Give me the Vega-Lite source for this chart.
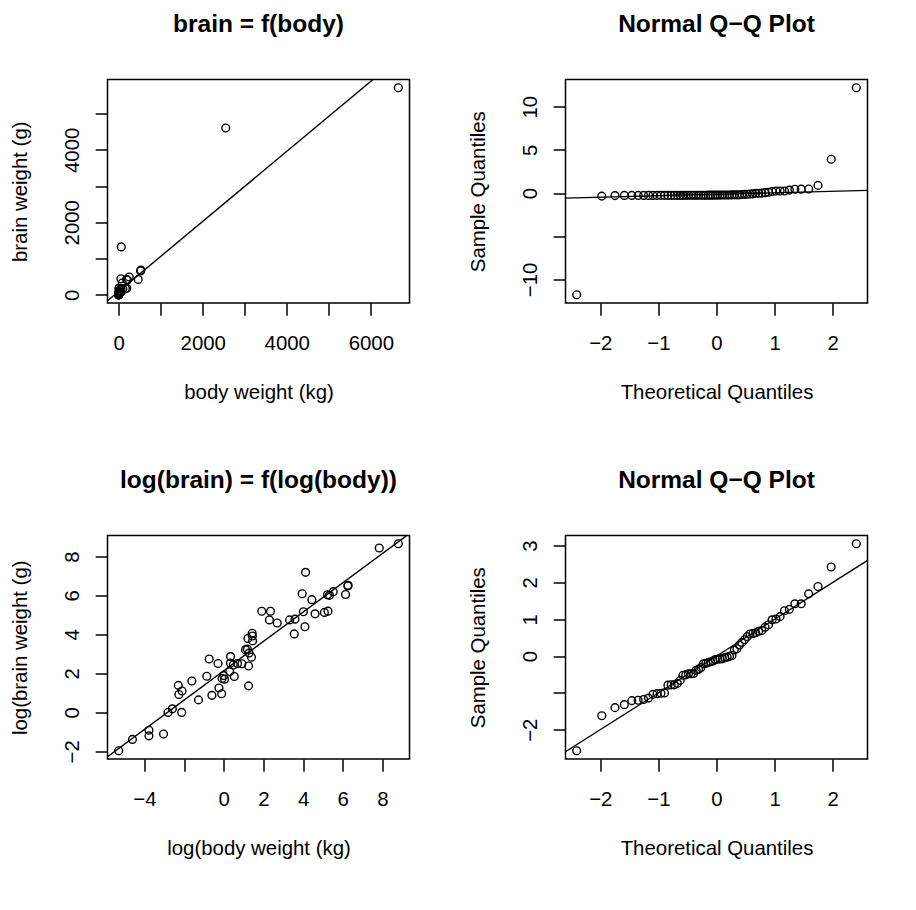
{
  "$schema": "https://vega.github.io/schema/vega-lite/v6.json",
  "padding": {"left": 9.5, "top": 10.5, "right": 0, "bottom": 0},
  "background": "white",
  "config": {
    "font": "Liberation Sans",
    "view": {"stroke": "black", "strokeWidth": 1.5},
    "axis": {
      "grid": false, "domain": false, "ticks": true, "tickColor": "black", "tickWidth": 1.5, "tickSize": 12.3,
      "labelFont": "Liberation Sans", "labelFontSize": 20.4, "labelColor": "black", "labelFlush": false, "labelOverlap": false,
      "titleFont": "Liberation Sans", "titleFontSize": 20.4, "titleFontWeight": "normal", "titleColor": "black"
    },
    "axisX": {"labelBaseline": "alphabetic", "labelPadding": 33.9, "titleBaseline": "alphabetic", "titleY": 95.3},
    "axisY": {"labelAngle": -90, "labelAlign": "center", "labelBaseline": "alphabetic", "labelPadding": 16.3, "titleX": -81, "titleBaseline": "alphabetic"},
    "title": {"font": "Liberation Sans", "fontSize": 24.5, "fontWeight": "bold", "anchor": "middle", "frame": "group", "baseline": "alphabetic", "offset": 42.4, "color": "black"}
  },
  "datasets": {
    "mammals": [
      {"body":3.385,"brain":44.5,"lbody":1.2194,"lbrain":3.7955},
      {"body":0.48,"brain":15.5,"lbody":-0.734,"lbrain":2.7408},
      {"body":1.35,"brain":8.1,"lbody":0.3001,"lbrain":2.0919},
      {"body":465,"brain":423,"lbody":6.142,"lbrain":6.0474},
      {"body":36.33,"brain":119.5,"lbody":3.5927,"lbrain":4.7833},
      {"body":27.66,"brain":115,"lbody":3.32,"lbrain":4.7449},
      {"body":14.83,"brain":98.2,"lbody":2.6967,"lbrain":4.587},
      {"body":1.04,"brain":5.5,"lbody":0.0392,"lbrain":1.7047},
      {"body":4.19,"brain":58,"lbody":1.4327,"lbrain":4.0604},
      {"body":0.425,"brain":6.4,"lbody":-0.8557,"lbrain":1.8563},
      {"body":0.101,"brain":4,"lbody":-2.2926,"lbrain":1.3863},
      {"body":0.92,"brain":5.7,"lbody":-0.0834,"lbrain":1.7405},
      {"body":1,"brain":6.6,"lbody":0,"lbrain":1.8871},
      {"body":0.005,"brain":0.14,"lbody":-5.2983,"lbrain":-1.9661},
      {"body":0.06,"brain":1,"lbody":-2.8134,"lbrain":0},
      {"body":3.5,"brain":10.8,"lbody":1.2528,"lbrain":2.3795},
      {"body":2,"brain":12.3,"lbody":0.6931,"lbrain":2.5096},
      {"body":1.7,"brain":6.3,"lbody":0.5306,"lbrain":1.8406},
      {"body":2547,"brain":4603,"lbody":7.8427,"lbrain":8.4344},
      {"body":0.023,"brain":0.3,"lbody":-3.7723,"lbrain":-1.204},
      {"body":187.1,"brain":419,"lbody":5.2317,"lbrain":6.0379},
      {"body":521,"brain":655,"lbody":6.2558,"lbrain":6.4846},
      {"body":0.785,"brain":3.5,"lbody":-0.2421,"lbrain":1.2528},
      {"body":10,"brain":115,"lbody":2.3026,"lbrain":4.7449},
      {"body":3.3,"brain":25.6,"lbody":1.1939,"lbrain":3.2426},
      {"body":0.2,"brain":5,"lbody":-1.6094,"lbrain":1.6094},
      {"body":1.41,"brain":17.5,"lbody":0.3436,"lbrain":2.8622},
      {"body":529,"brain":680,"lbody":6.271,"lbrain":6.5221},
      {"body":207,"brain":406,"lbody":5.3327,"lbrain":6.0064},
      {"body":85,"brain":325,"lbody":4.4427,"lbrain":5.7838},
      {"body":0.75,"brain":12.3,"lbody":-0.2877,"lbrain":2.5096},
      {"body":62,"brain":1320,"lbody":4.1271,"lbrain":7.1854},
      {"body":6654,"brain":5712,"lbody":8.803,"lbrain":8.6503},
      {"body":3.5,"brain":3.9,"lbody":1.2528,"lbrain":1.361},
      {"body":6.8,"brain":179,"lbody":1.9169,"lbrain":5.1874},
      {"body":35,"brain":56,"lbody":3.5553,"lbrain":4.0254},
      {"body":4.05,"brain":17,"lbody":1.3987,"lbrain":2.8332},
      {"body":0.12,"brain":1,"lbody":-2.1203,"lbrain":0},
      {"body":0.023,"brain":0.4,"lbody":-3.7723,"lbrain":-0.9163},
      {"body":0.01,"brain":0.25,"lbody":-4.6052,"lbrain":-1.3863},
      {"body":1.4,"brain":12.5,"lbody":0.3365,"lbrain":2.5257},
      {"body":250,"brain":490,"lbody":5.5215,"lbrain":6.1944},
      {"body":2.5,"brain":12.1,"lbody":0.9163,"lbrain":2.4932},
      {"body":55.5,"brain":175,"lbody":4.0164,"lbrain":5.1648},
      {"body":100,"brain":157,"lbody":4.6052,"lbrain":5.0562},
      {"body":52.16,"brain":440,"lbody":3.9543,"lbrain":6.0868},
      {"body":10.55,"brain":179.5,"lbody":2.3561,"lbrain":5.1902},
      {"body":0.55,"brain":2.4,"lbody":-0.5978,"lbrain":0.8755},
      {"body":60,"brain":81,"lbody":4.0943,"lbrain":4.3944},
      {"body":3.6,"brain":21,"lbody":1.2809,"lbrain":3.0445},
      {"body":4.288,"brain":39.2,"lbody":1.4558,"lbrain":3.6687},
      {"body":0.28,"brain":1.9,"lbody":-1.273,"lbrain":0.6419},
      {"body":0.075,"brain":1.2,"lbody":-2.5903,"lbrain":0.1823},
      {"body":0.122,"brain":3,"lbody":-2.1037,"lbrain":1.0986},
      {"body":0.048,"brain":0.33,"lbody":-3.0366,"lbrain":-1.1087},
      {"body":192,"brain":180,"lbody":5.2575,"lbrain":5.193},
      {"body":3,"brain":25,"lbody":1.0986,"lbrain":3.2189},
      {"body":160,"brain":169,"lbody":5.0752,"lbrain":5.1299},
      {"body":0.9,"brain":2.6,"lbody":-0.1054,"lbrain":0.9555},
      {"body":1.62,"brain":11.4,"lbody":0.4824,"lbrain":2.4336},
      {"body":0.104,"brain":2.5,"lbody":-2.2634,"lbrain":0.9163},
      {"body":4.235,"brain":50.4,"lbody":1.4434,"lbrain":3.92}
    ],
    "fit1": [{"body":-300,"brain":-199},{"body":7000,"brain":6856.5}],
    "fit3": [{"lbody":-7,"lbrain":-3.1271},{"lbody":10,"lbrain":9.6518}],
    "qq1": [
      {"theo":-2.406,"sample":-11.78},{"theo":-1.974,"sample":-0.354},{"theo":-1.747,"sample":-0.289},{"theo":-1.586,"sample":-0.272},
      {"theo":-1.457,"sample":-0.271},{"theo":-1.349,"sample":-0.271},{"theo":-1.254,"sample":-0.271},{"theo":-1.17,"sample":-0.271},
      {"theo":-1.094,"sample":-0.27},{"theo":-1.023,"sample":-0.269},{"theo":-0.957,"sample":-0.269},{"theo":-0.895,"sample":-0.269},
      {"theo":-0.836,"sample":-0.267},{"theo":-0.78,"sample":-0.267},{"theo":-0.726,"sample":-0.266},{"theo":-0.674,"sample":-0.265},
      {"theo":-0.624,"sample":-0.264},{"theo":-0.576,"sample":-0.263},{"theo":-0.529,"sample":-0.26},{"theo":-0.483,"sample":-0.258},
      {"theo":-0.438,"sample":-0.258},{"theo":-0.394,"sample":-0.258},{"theo":-0.351,"sample":-0.258},{"theo":-0.308,"sample":-0.255},
      {"theo":-0.266,"sample":-0.254},{"theo":-0.224,"sample":-0.252},{"theo":-0.183,"sample":-0.25},{"theo":-0.142,"sample":-0.243},
      {"theo":-0.101,"sample":-0.243},{"theo":-0.061,"sample":-0.241},{"theo":-0.02,"sample":-0.239},{"theo":0.02,"sample":-0.237},
      {"theo":0.061,"sample":-0.233},{"theo":0.101,"sample":-0.229},{"theo":0.142,"sample":-0.227},{"theo":0.183,"sample":-0.224},
      {"theo":0.224,"sample":-0.22},{"theo":0.266,"sample":-0.206},{"theo":0.308,"sample":-0.206},{"theo":0.351,"sample":-0.205},
      {"theo":0.394,"sample":-0.203},{"theo":0.438,"sample":-0.167},{"theo":0.483,"sample":-0.149},{"theo":0.529,"sample":-0.134},
      {"theo":0.576,"sample":-0.111},{"theo":0.624,"sample":-0.092},{"theo":0.674,"sample":-0.021},{"theo":0.726,"sample":-0.02},
      {"theo":0.78,"sample":-0.008},{"theo":0.836,"sample":0.043},{"theo":0.895,"sample":0.091},{"theo":0.957,"sample":0.182},
      {"theo":1.023,"sample":0.234},{"theo":1.094,"sample":0.234},{"theo":1.17,"sample":0.243},{"theo":1.254,"sample":0.344},
      {"theo":1.349,"sample":0.44},{"theo":1.457,"sample":0.454},{"theo":1.586,"sample":0.47},{"theo":1.747,"sample":0.89},
      {"theo":1.974,"sample":3.92},{"theo":2.406,"sample":12.2}
    ],
    "fit2": [{"theo":-3,"sample":-0.659},{"theo":3,"sample":0.379}],
    "qq2": [
      {"theo":-2.406,"sample":-2.57},{"theo":-1.974,"sample":-1.62},{"theo":-1.747,"sample":-1.4},{"theo":-1.586,"sample":-1.32},
      {"theo":-1.457,"sample":-1.21},{"theo":-1.349,"sample":-1.2},{"theo":-1.254,"sample":-1.18},{"theo":-1.17,"sample":-1.14},
      {"theo":-1.094,"sample":-1.04},{"theo":-1.023,"sample":-1.02},{"theo":-0.957,"sample":-1.01},{"theo":-0.895,"sample":-1.0},
      {"theo":-0.836,"sample":-0.79},{"theo":-0.78,"sample":-0.78},{"theo":-0.726,"sample":-0.78},{"theo":-0.674,"sample":-0.74},
      {"theo":-0.624,"sample":-0.66},{"theo":-0.576,"sample":-0.52},{"theo":-0.529,"sample":-0.51},{"theo":-0.483,"sample":-0.48},
      {"theo":-0.438,"sample":-0.48},{"theo":-0.394,"sample":-0.475},{"theo":-0.351,"sample":-0.387},{"theo":-0.308,"sample":-0.357},
      {"theo":-0.266,"sample":-0.31},{"theo":-0.224,"sample":-0.21},{"theo":-0.183,"sample":-0.197},{"theo":-0.142,"sample":-0.177},
      {"theo":-0.101,"sample":-0.154},{"theo":-0.061,"sample":-0.131},{"theo":-0.02,"sample":-0.092},{"theo":0.02,"sample":-0.085},
      {"theo":0.061,"sample":-0.076},{"theo":0.101,"sample":-0.075},{"theo":0.142,"sample":-0.043},{"theo":0.183,"sample":-0.029},
      {"theo":0.224,"sample":-0.007},{"theo":0.266,"sample":0.016},{"theo":0.308,"sample":0.164},{"theo":0.351,"sample":0.199},
      {"theo":0.394,"sample":0.302},{"theo":0.438,"sample":0.372},{"theo":0.483,"sample":0.445},{"theo":0.529,"sample":0.526},
      {"theo":0.576,"sample":0.6},{"theo":0.624,"sample":0.612},{"theo":0.674,"sample":0.634},{"theo":0.726,"sample":0.675},
      {"theo":0.78,"sample":0.696},{"theo":0.836,"sample":0.785},{"theo":0.895,"sample":0.851},{"theo":0.957,"sample":0.985},
      {"theo":1.023,"sample":1.008},{"theo":1.094,"sample":1.072},{"theo":1.17,"sample":1.23},{"theo":1.254,"sample":1.27},
      {"theo":1.349,"sample":1.42},{"theo":1.457,"sample":1.42},{"theo":1.586,"sample":1.69},{"theo":1.747,"sample":1.89},
      {"theo":1.974,"sample":2.42},{"theo":2.406,"sample":3.05}
    ],
    "fit4": [{"theo":-3,"sample":-2.997},{"theo":3,"sample":2.997}]
  },
  "columns": 2,
  "bounds": "flush",
  "spacing": {"row": 232, "column": 156},
  "concat": [
    {
      "title": "brain = f(body)",
      "width": 302, "height": 223.5,
      "encoding": {
        "x": {"field": "body", "type": "quantitative", "scale": {"domain": [-266.2, 6920.2], "nice": false, "zero": false},
              "axis": {"title": "body weight (kg)", "values": [0,1000,2000,3000,4000,5000,6000], "format": "d", "labelExpr": "datum.value % 2000 == 0 ? datum.label : ''"}},
        "y": {"field": "brain", "type": "quantitative", "scale": {"domain": [-228.3, 5940.4], "nice": false, "zero": false},
              "axis": {"title": "brain weight (g)", "values": [0,1000,2000,3000,4000,5000], "format": "d", "labelExpr": "datum.value % 2000 == 0 ? datum.label : ''"}}
      },
      "layer": [
        {"data": {"name": "mammals"}, "mark": {"type": "point", "shape": "circle", "filled": false, "color": "black", "opacity": 1, "size": 60, "strokeWidth": 1.4}, "encoding": {}},
        {"data": {"name": "fit1"}, "mark": {"type": "line", "color": "black", "strokeWidth": 1.4, "clip": true}, "encoding": {}}
      ]
    },
    {
      "title": "Normal Q\u2212Q Plot",
      "width": 302, "height": 223.5,
      "encoding": {
        "x": {"field": "theo", "type": "quantitative", "scale": {"domain": [-2.5985, 2.5985], "nice": false, "zero": false},
              "axis": {"title": "Theoretical Quantiles", "values": [-2,-1,0,1,2], "format": "d"}},
        "y": {"field": "sample", "type": "quantitative", "scale": {"domain": [-12.74, 13.16], "nice": false, "zero": false},
              "axis": {"title": "Sample Quantiles", "values": [-10,-5,0,5,10], "format": "d", "labelExpr": "datum.value == -5 ? '' : datum.label"}}
      },
      "layer": [
        {"data": {"name": "qq1"}, "mark": {"type": "point", "shape": "circle", "filled": false, "color": "black", "opacity": 1, "size": 60, "strokeWidth": 1.4}, "encoding": {}},
        {"data": {"name": "fit2"}, "mark": {"type": "line", "color": "black", "strokeWidth": 1.4, "clip": true}, "encoding": {}}
      ]
    },
    {
      "title": "log(brain) = f(log(body))",
      "width": 302, "height": 223.5,
      "encoding": {
        "x": {"field": "lbody", "type": "quantitative", "scale": {"domain": [-5.862, 9.367], "nice": false, "zero": false},
              "axis": {"title": "log(body weight (kg)", "values": [-4,-2,0,2,4,6,8], "format": "d", "labelExpr": "datum.value == -2 ? '' : datum.label"}},
        "y": {"field": "lbrain", "type": "quantitative", "scale": {"domain": [-2.391, 9.075], "nice": false, "zero": false},
              "axis": {"title": "log(brain weight (g)", "values": [-2,0,2,4,6,8], "format": "d"}}
      },
      "layer": [
        {"data": {"name": "mammals"}, "mark": {"type": "point", "shape": "circle", "filled": false, "color": "black", "opacity": 1, "size": 60, "strokeWidth": 1.4}, "encoding": {}},
        {"data": {"name": "fit3"}, "mark": {"type": "line", "color": "black", "strokeWidth": 1.4, "clip": true}, "encoding": {}}
      ]
    },
    {
      "title": "Normal Q\u2212Q Plot",
      "width": 302, "height": 223.5,
      "encoding": {
        "x": {"field": "theo", "type": "quantitative", "scale": {"domain": [-2.5985, 2.5985], "nice": false, "zero": false},
              "axis": {"title": "Theoretical Quantiles", "values": [-2,-1,0,1,2], "format": "d"}},
        "y": {"field": "sample", "type": "quantitative", "scale": {"domain": [-2.795, 3.275], "nice": false, "zero": false},
              "axis": {"title": "Sample Quantiles", "values": [-2,-1,0,1,2,3], "format": "d", "labelExpr": "datum.value == -1 ? '' : datum.label"}}
      },
      "layer": [
        {"data": {"name": "qq2"}, "mark": {"type": "point", "shape": "circle", "filled": false, "color": "black", "opacity": 1, "size": 60, "strokeWidth": 1.4}, "encoding": {}},
        {"data": {"name": "fit4"}, "mark": {"type": "line", "color": "black", "strokeWidth": 1.4, "clip": true}, "encoding": {}}
      ]
    }
  ]
}
